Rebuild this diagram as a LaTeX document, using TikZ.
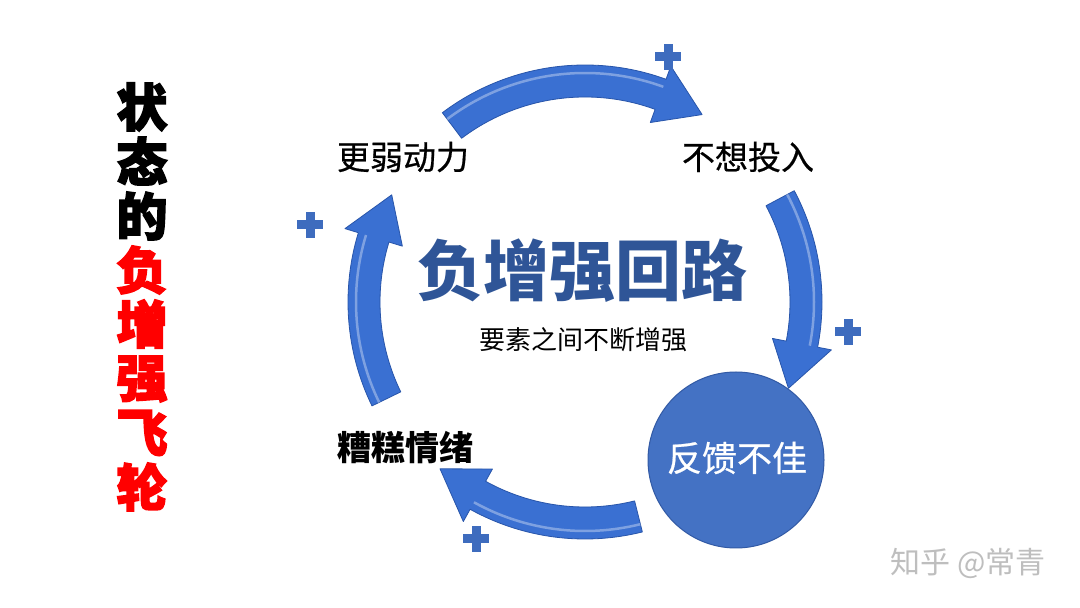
\documentclass[tikz,border=0pt]{standalone}
\usepackage{fontspec}
\setmainfont{Noto Sans CJK SC}
\newfontfamily\heavy{Noto Sans CJK SC}[BoldFeatures={FakeBold=3}]
\newfontfamily\medium{Noto Sans CJK SC}[FakeBold=0.6]
\definecolor{arrowblue}{RGB}{58,112,210}
\definecolor{arrowdark}{RGB}{40,85,170}
\definecolor{titleblue}{RGB}{47,85,151}
\definecolor{circleblue}{RGB}{68,114,196}
\definecolor{circleedge}{RGB}{50,90,165}
\definecolor{plusblue}{RGB}{62,108,190}
\definecolor{wmgray}{RGB}{190,190,190}
\newcommand\carrow[3]{%
  \fill[arrowblue, draw=arrowdark, line width=0.8pt, line join=round]
    (#1:237) arc[start angle=#1, end angle=#2, radius=237]
    -- (#2:251) -- (#3:221) -- (#2:191) -- (#2:205)
    arc[start angle=#2, end angle=#1, radius=205] -- cycle;
  \draw[white, opacity=0.35, line width=2.5pt]
    (#1:229) arc[start angle=#1, end angle=#2, radius=229];
}
\newcommand\plusmark[2]{%
  \fill[plusblue] (#1-13,#2-4.5) rectangle (#1+13,#2+4.5);
  \fill[plusblue] (#1-4.5,#2-13) rectangle (#1+4.5,#2+13);
}
\tikzset{
  lbl/.style={inner sep=0pt, font=\medium\fontsize{33}{33}\selectfont, text=black},
  ttl/.style={inner sep=0pt, font=\heavy\bfseries\fontsize{51}{51}\selectfont},
}
\begin{document}
\begin{tikzpicture}[x=1pt,y=1pt]
\useasboundingbox[fill=white] (0,0) rectangle (1080,608);
% curved arrows
\begin{scope}[shift={(585,306)}]
  \carrow{127}{70}{58}
  \carrow{28}{-11}{-23}
  \carrow{-76}{-119}{-131}
  \carrow{206}{163}{151}
\end{scope}
% plus signs
\plusmark{668}{551}
\plusmark{310}{383}
\plusmark{848}{276}
\plusmark{476}{69}
% labels
\node[lbl] (l1) at (403,451) {更弱动力};
\node[lbl] (l2) at (748,451) {不想投入};
\node[lbl, font=\bfseries\fontsize{34}{34}\selectfont] (l3) at (405,160) {糟糕情绪};
\node[inner sep=0pt, text=titleblue, font=\bfseries\fontsize{66}{66}\selectfont] (main) at (582,337) {负增强回路};
\node[inner sep=0pt, font=\fontsize{26}{26}\selectfont] (sub) at (583,268) {要素之间不断增强};
\node[circle, fill=circleblue, draw=circleedge, line width=1pt, minimum size=176pt, inner sep=0pt] (fb) at (736,148) {};
\node[inner sep=0pt, text=white, font=\medium\fontsize{35}{35}\selectfont] (fbt) at (737,150) {反馈不佳};
% vertical title
\foreach \ch/\yy/\cc [count=\i] in {状/501/black, 态/447/black, 的/392/black, 负/338/red, 增/284/red, 强/229/red, 飞/175/red, 轮/121/red}{
  \node[ttl, text=\cc] (t\i) at (142,\yy) {\ch};
}
% watermark
\node[inner sep=0pt, text=wmgray, font=\fontsize{30}{30}\selectfont] (wm) at (968,45) {知乎 @常青};
\end{tikzpicture}
\end{document}
